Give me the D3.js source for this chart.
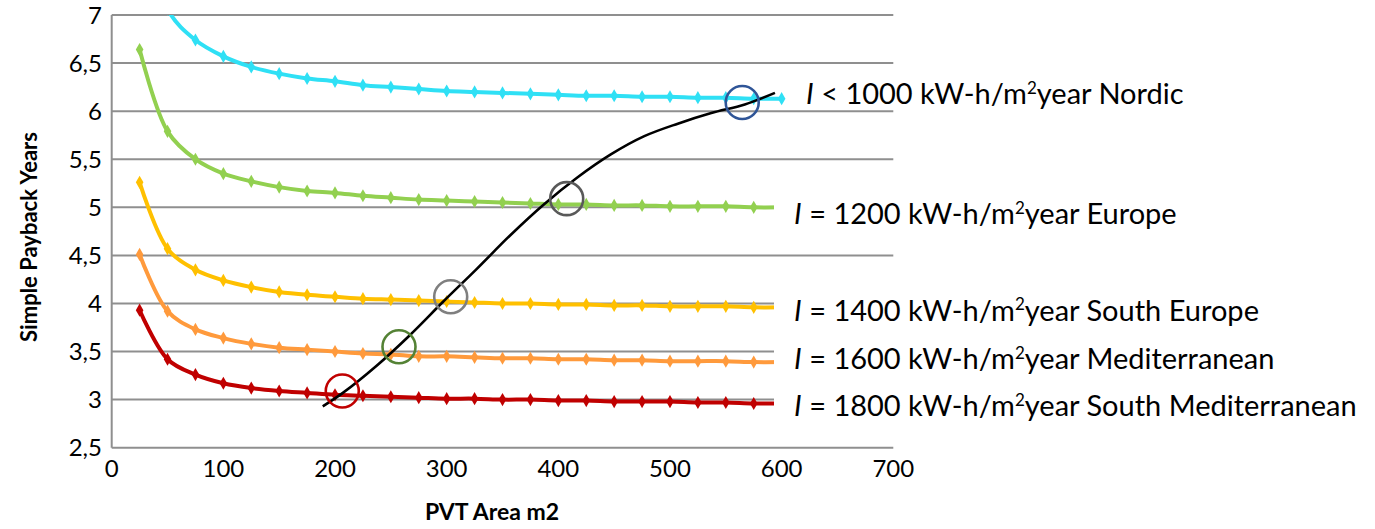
<!DOCTYPE html>
<html>
<head>
<meta charset="utf-8">
<script src="https://cdn.jsdelivr.net/npm/d3@7"></script>
<style>
  body { margin: 0; background: #fff; }
  svg { display: block; font-family: Lato, "Liberation Sans", Arial, sans-serif; }
</style>
</head>
<body>
<div id="chart"></div>
<script>
// chart data
const areas = [25, 50, 75, 100, 125, 150, 175, 200, 225, 250, 275, 300,
               325, 350, 375, 400, 425, 450, 475, 500, 525, 550, 575, 600];

const nordic   = [8.13, 7.06, 6.74, 6.57, 6.46, 6.39, 6.34, 6.31, 6.27, 6.25, 6.23, 6.21,
                  6.20, 6.19, 6.18, 6.17, 6.16, 6.16, 6.15, 6.15, 6.14, 6.14, 6.13, 6.13];
const europe   = [6.64, 5.79, 5.50, 5.35, 5.27, 5.21, 5.17, 5.15, 5.12, 5.10, 5.08, 5.07,
                  5.06, 5.05, 5.04, 5.03, 5.03, 5.02, 5.02, 5.01, 5.01, 5.01, 5.00, 5.00];
const southEu  = [5.26, 4.57, 4.35, 4.24, 4.17, 4.12, 4.09, 4.07, 4.05, 4.04, 4.03, 4.02,
                  4.01, 4.00, 4.00, 3.99, 3.99, 3.98, 3.98, 3.97, 3.97, 3.97, 3.96, 3.96];
const medit    = [4.51, 3.92, 3.73, 3.64, 3.58, 3.54, 3.52, 3.50, 3.48, 3.47, 3.45, 3.45,
                  3.44, 3.43, 3.43, 3.42, 3.42, 3.41, 3.41, 3.40, 3.40, 3.40, 3.39, 3.39];
const southMed = [3.93, 3.42, 3.26, 3.17, 3.12, 3.09, 3.07, 3.05, 3.04, 3.03, 3.02, 3.01,
                  3.01, 3.00, 3.00, 2.99, 2.99, 2.98, 2.98, 2.98, 2.97, 2.97, 2.96, 2.96];

// black optimum curve through the five circles
const optX = [189, 207, 237, 267, 297, 327, 357, 387, 417, 447, 477, 507, 537, 567, 594];
const optY = [2.93, 3.07, 3.35, 3.67, 4.02, 4.36, 4.71, 5.03, 5.31, 5.55, 5.74, 5.87, 5.98, 6.07, 6.19];

// highlighted intersections
const circleX = [206.5, 257.3, 303.6, 407.5, 564.7];
const circleY = [3.09, 3.55, 4.07, 5.09, 6.09];
const circleColors = ['#c00000', '#548235', '#7f7f7f', '#595959', '#2f5597'];

const seriesValues = [nordic, europe, southEu, medit, southMed];
const seriesColors = ['#2fe0f5', '#92d050', '#ffc000', '#ff9a3c', '#c00000'];
const seriesOps = ['<', '=', '=', '=', '='];
const seriesIrr = ['1000', '1200', '1400', '1600', '1800'];
const seriesRegion = ['Nordic', 'Europe', 'South Europe', 'Mediterranean', 'South Mediterranean'];
// y value where each label sits
const labelAt = [6.18, 4.93, 3.93, 3.43, 2.94];

const xTicks = [0, 100, 200, 300, 400, 500, 600, 700];
const yTicks = [2.5, 3, 3.5, 4, 4.5, 5, 5.5, 6, 6.5, 7];
const yTickLabels = ['2,5', '3', '3,5', '4', '4,5', '5', '5,5', '6', '6,5', '7'];

const width = 1375;
const height = 529;

const svg = d3.select('#chart')
  .append('svg')
  .attr('width', width)
  .attr('height', height);

const x = d3.scaleLinear().domain([0, 700]).range([111.7, 893.3]);
const y = d3.scaleLinear().domain([2.5, 7]).range([447.7, 15]);

svg.append('clipPath').attr('id', 'plot')
  .append('rect')
  .attr('x', x(0)).attr('y', y(7))
  .attr('width', x(700) - x(0)).attr('height', y(2.5) - y(7));

// gridlines
svg.append('g')
  .selectAll('line')
  .data(yTicks)
  .enter().append('line')
  .attr('x1', x(0)).attr('x2', x(700))
  .attr('y1', d => y(d)).attr('y2', d => y(d))
  .attr('stroke', '#8f8f8f')
  .attr('stroke-width', 2);

// left axis line
svg.append('line')
  .attr('x1', x(0)).attr('x2', x(0))
  .attr('y1', y(7)).attr('y2', y(2.5))
  .attr('stroke', '#8f8f8f')
  .attr('stroke-width', 2);

const plot = svg.append('g').attr('clip-path', 'url(#plot)');

const line = d3.line()
  .x((d, i) => x(areas[i]))
  .y(d => y(d))
  .curve(d3.curveCatmullRom.alpha(0.5));

const diamond = d3.symbol().type(d3.symbolDiamond).size(50);

seriesValues.forEach((vals, k) => {
  plot.append('path')
    .datum(vals)
    .attr('d', line)
    .attr('fill', 'none')
    .attr('stroke', seriesColors[k])
    .attr('stroke-width', 4);

  plot.selectAll('.m' + k)
    .data(vals)
    .enter().append('path')
    .attr('class', 'm' + k)
    .attr('d', diamond)
    .attr('transform', (d, i) => `translate(${x(areas[i])},${y(d)})`)
    .attr('fill', seriesColors[k]);
});

// black S curve
const optLine = d3.line()
  .x((d, i) => x(optX[i]))
  .y(d => y(d))
  .curve(d3.curveCatmullRom.alpha(0.5));

plot.append('path')
  .datum(optY)
  .attr('d', optLine)
  .attr('fill', 'none')
  .attr('stroke', '#000')
  .attr('stroke-width', 2.6);

// circles
svg.append('g')
  .selectAll('circle')
  .data(circleY)
  .enter().append('circle')
  .attr('cx', (d, i) => x(circleX[i]))
  .attr('cy', d => y(d))
  .attr('r', 16.5)
  .attr('fill', 'none')
  .attr('stroke', (d, i) => circleColors[i])
  .attr('stroke-width', 2.6);

// series labels with white boxes
const labels = svg.append('g');
seriesRegion.forEach((name, k) => {
  const cy = y(labelAt[k]);
  const bx = k === 0 ? 806 : 774;
  labels.append('rect')
    .attr('x', bx).attr('y', cy - 19)
    .attr('width', width - bx).attr('height', 35)
    .attr('fill', '#fff');

  const t = labels.append('text')
    .attr('x', k === 0 ? 806 : 794)
    .attr('y', cy)
    .attr('dy', '0.36em')
    .attr('font-size', 29)
    .attr('fill', '#000');
  t.append('tspan').attr('font-style', 'italic').text('I');
  t.append('tspan').text(` ${seriesOps[k]} ${seriesIrr[k]} kW-h/m`);
  t.append('tspan').attr('font-size', 17).attr('dy', '-0.6em').text('2');
  t.append('tspan').attr('dy', '0.35em').text(`year ${name}`);
});

// tick labels
svg.append('g')
  .selectAll('text')
  .data(yTicks)
  .enter().append('text')
  .attr('x', 102)
  .attr('y', d => y(d))
  .attr('dy', '0.36em')
  .attr('text-anchor', 'end')
  .attr('font-size', 24)
  .attr('fill', '#000')
  .text((d, i) => yTickLabels[i]);

svg.append('g')
  .selectAll('text')
  .data(xTicks)
  .enter().append('text')
  .attr('x', d => x(d))
  .attr('y', 477)
  .attr('text-anchor', 'middle')
  .attr('font-size', 24)
  .attr('fill', '#000')
  .text(d => d);

// axis titles
svg.append('text')
  .attr('transform', 'translate(37,237) rotate(-90)')
  .attr('text-anchor', 'middle')
  .attr('font-size', 22)
  .attr('font-weight', 'bold')
  .text('Simple Payback Years');

svg.append('text')
  .attr('x', 492)
  .attr('y', 520)
  .attr('text-anchor', 'middle')
  .attr('font-size', 23)
  .attr('font-weight', 'bold')
  .text('PVT Area m2');
</script>
</body>
</html>
